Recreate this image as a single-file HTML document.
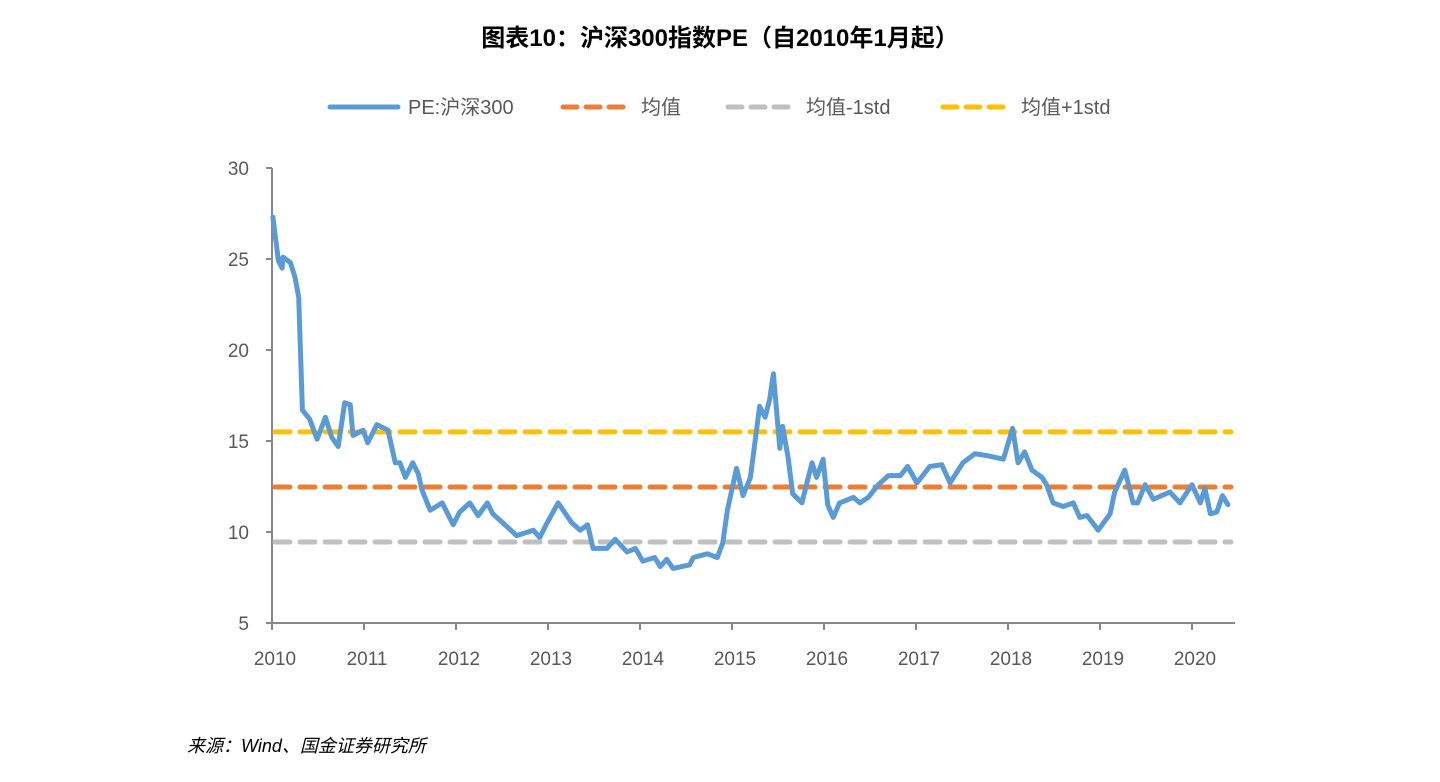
<!DOCTYPE html>
<html><head><meta charset="utf-8"><style>
body{margin:0;background:#fff;}
svg text{font-family:"Liberation Sans","Noto Sans CJK SC",sans-serif;}
</style></head><body>
<svg width="1440" height="777" viewBox="0 0 1440 777">
<text x="720" y="46" text-anchor="middle" font-size="24" font-weight="bold" fill="#000">图表10：沪深300指数PE（自2010年1月起）</text>
<g id="legend"></g>
<g id="axes"></g>
<g id="plot"></g>
<text x="187" y="752" font-size="18" font-style="italic" fill="#000">来源：Wind、国金证券研究所</text>
</svg>
<script>
const years=["2010","2011","2012","2013","2014","2015","2016","2017","2018","2019","2020"];
const yTicks=[5,10,15,20,25,30];
const dates=[0.01,0.07,0.11,0.12,0.2,0.25,0.29,0.33,0.41,0.49,0.58,0.65,0.72,0.79,0.85,0.88,0.99,1.04,1.14,1.26,1.34,1.39,1.45,1.53,1.59,1.63,1.72,1.85,1.97,2.04,2.15,2.24,2.34,2.4,2.51,2.66,2.84,2.91,2.99,3.11,3.26,3.35,3.43,3.49,3.64,3.73,3.86,3.95,4.03,4.16,4.22,4.29,4.36,4.54,4.58,4.73,4.84,4.9,4.95,5.05,5.12,5.2,5.3,5.36,5.41,5.45,5.52,5.55,5.61,5.66,5.76,5.87,5.92,5.99,6.04,6.1,6.17,6.32,6.39,6.48,6.59,6.7,6.83,6.91,7.01,7.15,7.28,7.37,7.51,7.64,7.77,7.95,8.05,8.11,8.18,8.26,8.37,8.42,8.49,8.6,8.71,8.78,8.86,8.98,9.11,9.16,9.27,9.36,9.41,9.49,9.58,9.76,9.87,10,10.09,10.14,10.2,10.27,10.33,10.39];
const pe=[27.3,24.9,24.5,25.1,24.8,24,22.9,16.7,16.2,15.1,16.3,15.2,14.7,17.1,17,15.3,15.6,14.9,15.9,15.6,13.8,13.8,13,13.8,13.2,12.3,11.2,11.6,10.4,11.1,11.6,10.9,11.6,11,10.5,9.8,10.1,9.7,10.5,11.6,10.5,10.1,10.4,9.1,9.1,9.6,8.9,9.1,8.4,8.6,8.1,8.5,8,8.2,8.6,8.8,8.6,9.4,11.2,13.5,12,13,16.9,16.3,17.3,18.7,14.6,15.8,14.1,12.1,11.6,13.8,13,14,11.5,10.8,11.6,11.9,11.6,11.9,12.6,13.1,13.1,13.6,12.7,13.6,13.7,12.7,13.8,14.3,14.2,14,15.7,13.8,14.4,13.4,13,12.6,11.6,11.4,11.6,10.8,10.9,10.1,11,12.2,13.4,11.6,11.6,12.6,11.8,12.2,11.6,12.6,11.6,12.4,11,11.1,12,11.5];
const refNames=["均值","均值-1std","均值+1std"];
const refValues=[12.47,9.45,15.5];
const refColors=["#ED7D31","#BFBFBF","#FFC000"];
const NS="http://www.w3.org/2000/svg";
const X0=272,XS=92,XEND=1235,Y0=623,YS=18.2;
const xs=t=>X0+t*XS, ys=v=>Y0-(v-5)*YS;
function mk(tag,attrs,parent,txt){const e=document.createElementNS(NS,tag);for(const k in attrs)e.setAttribute(k,attrs[k]);if(txt!==undefined)e.textContent=txt;parent.appendChild(e);return e;}
const axes=document.getElementById('axes'),plot=document.getElementById('plot'),leg=document.getElementById('legend');
let a=mk('line',{x1:X0,y1:ys(30),x2:X0,y2:Y0,stroke:'#888','stroke-width':2},axes);

a=mk('line',{x1:X0,y1:Y0,x2:XEND,y2:Y0,stroke:'#888','stroke-width':2},axes);

yTicks.forEach(v=>{const y=ys(v);
 let t=mk('line',{x1:X0-6,y1:y,x2:X0,y2:y,stroke:'#888','stroke-width':2},axes);
 
 let l=mk('text',{x:249,y:y+7,'text-anchor':'end','font-size':19,fill:'#595959'},axes,String(v));
 });
years.forEach((yr,i)=>{const x=xs(i);
 let t=mk('line',{x1:x,y1:Y0,x2:x,y2:Y0+7,stroke:'#888','stroke-width':2},axes);
 
 let l=mk('text',{x:x+3,y:665,'text-anchor':'middle','font-size':19,fill:'#595959'},axes,yr);
 });
refValues.forEach((v,i)=>{
 let r=mk('line',{x1:X0+3,y1:ys(v),x2:XEND-4,y2:ys(v),stroke:refColors[i],'stroke-width':5,'stroke-dasharray':'15 10','stroke-linecap':'round'},plot);
 });
let d=dates.map((t,i)=>(i?'L':'M')+xs(t).toFixed(1)+' '+ys(pe[i]).toFixed(1)).join(' ');
let p=mk('path',{d:d,fill:'none',stroke:'#5B9BD5','stroke-width':5,'stroke-linejoin':'round','stroke-linecap':'round'},plot);

const legItems=[{n:"PE:沪深300",c:"#5B9BD5",dash:false,x:330},{n:refNames[0],c:refColors[0],dash:true,x:563},{n:refNames[1],c:refColors[1],dash:true,x:728},{n:refNames[2],c:refColors[2],dash:true,x:943}];
legItems.forEach(it=>{
 let g=mk('g',{},leg);
 
 mk('line',{x1:it.x,y1:107,x2:it.x+68,y2:107,stroke:it.c,'stroke-width':5,'stroke-linecap':'round','stroke-dasharray':it.dash?'14 9':'none'},g);
 mk('text',{x:it.x+78,y:114,'font-size':20,fill:'#595959'},g,it.n);});
</script>
</body></html>
